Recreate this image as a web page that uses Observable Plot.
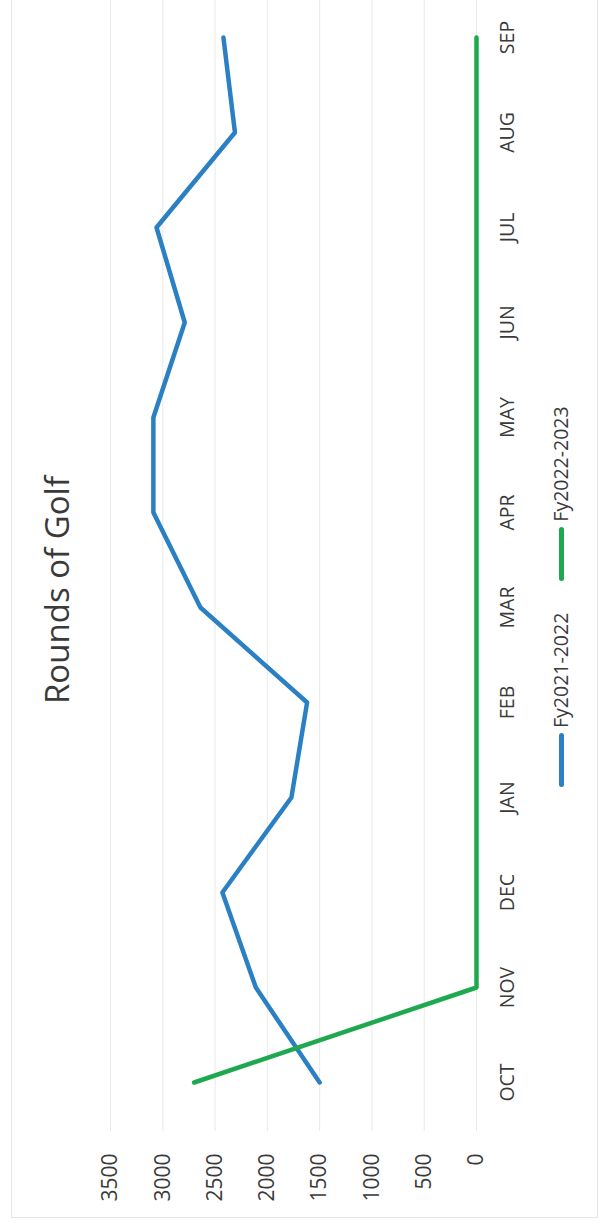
<!DOCTYPE html>
<html>
<head>
<meta charset="utf-8">
<script src="https://cdn.jsdelivr.net/npm/d3@7"></script>
<script src="https://cdn.jsdelivr.net/npm/@observablehq/plot@0.6"></script>
<style>
  html, body { margin: 0; padding: 0; width: 600px; height: 1226px; overflow: hidden; background: #fff; }
  #rot {
    position: absolute; left: 0; top: 0;
    width: 1240px; height: 600px;
    transform-origin: 0 0;
    transform: translate(0px, 1226px) rotate(-90deg);
    font-family: "Open Sans", sans-serif;
    color: #3a3a3a;
  }
  #frame {
    position: absolute; left: 8px; top: 11px; width: 1240px; height: 587px;
    border: 1px solid #e6e6e6; box-sizing: border-box;
  }
  #chart { position: absolute; left: 0; top: 0; }
  #title {
    position: absolute; top: 40px; left: 636px; transform: translateX(-50%);
    font-size: 33px; line-height: 1; white-space: nowrap; color: #3a3a3a;
  }
  #legend {
    position: absolute; left: 439px; top: 551px; height: 20px;
    display: flex; align-items: center; font-size: 19.5px; line-height: 1; white-space: nowrap;
  }
  .seg { width: 54px; height: 5px; border-radius: 3px; margin-right: 5px; }
  .lbl { margin-right: 32px; }
</style>
</head>
<body>
<div id="rot">
  <div id="frame"></div>
  <div id="chart"></div>
  <div id="title">Rounds of Golf</div>
  <div id="legend"></div>
</div>
<script>
const months = ["OCT","NOV","DEC","JAN","FEB","MAR","APR","MAY","JUN","JUL","AUG","SEP"];
const fy2122 = [1500, 2110, 2430, 1770, 1620, 2640, 3090, 3090, 2790, 3060, 2310, 2420];
const fy2223 = [2700, 0, 0, 0, 0, 0, 0, 0, 0, 0, 0, 0];
const seriesNames = ["Fy2021-2022", "Fy2022-2023"];
const seriesColors = ["#2a80c3", "#1fa94f"];
const yTicks = [0, 500, 1000, 1500, 2000, 2500, 3000, 3500];

const data = [
  ...months.map((m, i) => ({month: m, value: fy2122[i], series: seriesNames[0]})),
  ...months.map((m, i) => ({month: m, value: fy2223[i], series: seriesNames[1]}))
];

const chart = Plot.plot({
  width: 1240,
  height: 600,
  marginLeft: 95,
  marginRight: 5,
  marginTop: 110,
  marginBottom: 124,
  style: {fontFamily: "Open Sans, sans-serif", color: "#3a3a3a", background: "transparent"},
  x: {type: "point", domain: months, padding: 0.5, label: null, axis: null},
  y: {domain: [0, 3500], label: null, axis: null},
  color: {domain: seriesNames, range: seriesColors},
  marks: [
    Plot.gridY(yTicks, {stroke: "#e9e9e9", strokeOpacity: 1, strokeWidth: 1}),
    Plot.axisY(yTicks, {tickSize: 0, tickPadding: 23, fontSize: 21, label: null, tickFormat: d => String(d)}),
    Plot.axisX(months, {tickSize: 0, tickPadding: 24, fontSize: 19.5, label: null}),
    Plot.line(data, {
      x: "month", y: "value", z: "series", stroke: "series",
      strokeWidth: 4.5, strokeLinecap: "round", strokeLinejoin: "round"
    })
  ]
});
document.getElementById("chart").appendChild(chart);

const legend = document.getElementById("legend");
seriesNames.forEach((name, i) => {
  const seg = document.createElement("div");
  seg.className = "seg";
  seg.style.background = seriesColors[i];
  const lbl = document.createElement("div");
  lbl.className = "lbl";
  lbl.textContent = name;
  legend.appendChild(seg);
  legend.appendChild(lbl);
});
</script>
</body>
</html>
